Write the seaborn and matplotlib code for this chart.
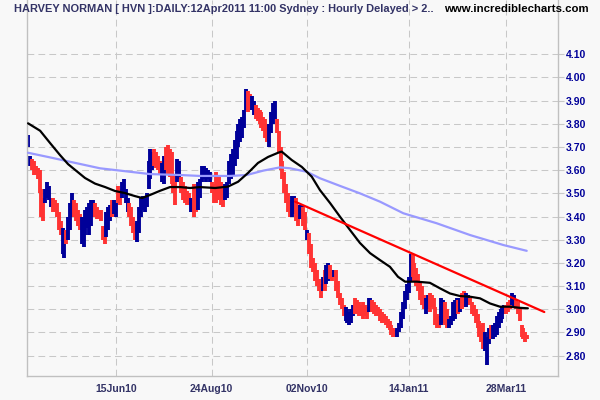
import numpy as np
import pandas as pd
import matplotlib
matplotlib.use("Agg")
import matplotlib.pyplot as plt
import seaborn as sns

# one bar per trading day, 12 Apr 2010 .. 12 Apr 2011
dates = pd.bdate_range("2010-04-12", "2011-04-12")

bar_low = [
    3.70, 3.62, 3.60, 3.58, 3.58, 3.56, 3.50, 3.40, 3.38, 3.46,
    3.48, 3.47, 3.44, 3.42, 3.42, 3.40, 3.34, 3.32, 3.24, 3.22,
    3.28, 3.30, 3.34, 3.40, 3.40, 3.38, 3.36, 3.34, 3.28, 3.27,
    3.32, 3.35, 3.32, 3.36, 3.40, 3.40, 3.39, 3.39, 3.38, 3.30,
    3.28, 3.31, 3.34, 3.38, 3.40, 3.41, 3.40, 3.46, 3.45, 3.48,
    3.50, 3.46, 3.42, 3.40, 3.36, 3.33, 3.30, 3.29, 3.33, 3.40,
    3.43, 3.42, 3.44, 3.52, 3.56, 3.60, 3.62, 3.61, 3.60, 3.58,
    3.55, 3.54, 3.60, 3.58, 3.57, 3.54, 3.50, 3.45, 3.55, 3.56,
    3.50, 3.47, 3.46, 3.45, 3.45, 3.42, 3.43, 3.40, 3.42, 3.43,
    3.48, 3.55, 3.56, 3.55, 3.56, 3.55, 3.50, 3.46, 3.46, 3.48,
    3.47, 3.45, 3.44, 3.47, 3.48, 3.54, 3.56, 3.58, 3.62, 3.65,
    3.70, 3.72, 3.74, 3.78, 3.86, 3.85, 3.86, 3.86, 3.84, 3.82,
    3.81, 3.80, 3.78, 3.77, 3.74, 3.72, 3.70, 3.76, 3.80, 3.82,
    3.76, 3.68, 3.60, 3.56, 3.50, 3.46, 3.42, 3.40, 3.40, 3.41,
    3.38, 3.36, 3.39, 3.40, 3.36, 3.34, 3.30, 3.24, 3.18, 3.16,
    3.12, 3.10, 3.08, 3.05, 3.08, 3.08, 3.11, 3.12, 3.13, 3.12,
    3.14, 3.08, 3.05, 3.02, 3.00, 2.97, 2.95, 2.94, 2.93, 2.94,
    2.97, 2.98, 2.98, 2.97, 2.97, 2.96, 2.97, 2.96, 2.99, 3.00,
    2.99, 2.98, 2.97, 2.97, 2.95, 2.94, 2.94, 2.93, 2.92, 2.91,
    2.89, 2.88, 2.88, 2.88, 2.90, 2.92, 2.96, 3.00, 3.04, 3.07,
    3.12, 3.14, 3.12, 3.10, 3.08, 3.04, 3.02, 3.00, 2.98, 3.00,
    2.99, 3.01, 3.00, 2.93, 2.92, 2.92, 2.93, 2.94, 2.93, 2.92,
    2.92, 2.93, 2.95, 2.96, 2.98, 2.98, 2.99, 3.00, 3.01, 3.01,
    3.02, 3.02, 2.98, 2.97, 2.94, 2.92, 2.88, 2.86, 2.83, 2.82,
    2.76, 2.85, 2.87, 2.87, 2.88, 2.89, 2.92, 2.94, 2.96, 2.98,
    2.98, 2.99, 3.00, 3.02, 3.01, 3.00, 2.98, 2.95, 2.88, 2.87,
    2.86, 2.87,
]
bar_high = [
    3.75, 3.66, 3.65, 3.64, 3.62, 3.61, 3.60, 3.52, 3.48, 3.52,
    3.55, 3.53, 3.48, 3.48, 3.47, 3.46, 3.42, 3.38, 3.35, 3.30,
    3.34, 3.40, 3.46, 3.50, 3.47, 3.46, 3.43, 3.41, 3.40, 3.38,
    3.43, 3.44, 3.46, 3.47, 3.47, 3.46, 3.44, 3.43, 3.43, 3.36,
    3.33, 3.42, 3.44, 3.45, 3.47, 3.47, 3.46, 3.53, 3.52, 3.55,
    3.56, 3.52, 3.48, 3.46, 3.44, 3.40, 3.37, 3.38, 3.44, 3.48,
    3.49, 3.48, 3.50, 3.64, 3.69, 3.68, 3.69, 3.68, 3.66, 3.64,
    3.63, 3.66, 3.70, 3.71, 3.69, 3.68, 3.58, 3.55, 3.65, 3.64,
    3.57, 3.55, 3.53, 3.51, 3.50, 3.48, 3.48, 3.54, 3.52, 3.55,
    3.56, 3.62, 3.62, 3.61, 3.60, 3.59, 3.55, 3.54, 3.59, 3.57,
    3.58, 3.55, 3.52, 3.54, 3.55, 3.64, 3.67, 3.69, 3.73, 3.77,
    3.80, 3.82, 3.83, 3.86, 3.95, 3.94, 3.93, 3.92, 3.90, 3.88,
    3.87, 3.86, 3.85, 3.83, 3.82, 3.80, 3.80, 3.85, 3.89, 3.90,
    3.82, 3.77, 3.70, 3.64, 3.59, 3.54, 3.50, 3.47, 3.49, 3.49,
    3.48, 3.45, 3.45, 3.45, 3.44, 3.42, 3.34, 3.33, 3.28, 3.22,
    3.20, 3.17, 3.13, 3.11, 3.14, 3.17, 3.19, 3.20, 3.19, 3.17,
    3.17, 3.17, 3.12, 3.07, 3.05, 3.02, 3.01, 3.00, 2.99, 3.00,
    3.02, 3.05, 3.04, 3.03, 3.02, 3.03, 3.02, 3.01, 3.05, 3.05,
    3.04, 3.03, 3.02, 3.01, 3.00, 2.99, 2.98, 2.97, 2.96, 2.95,
    2.93, 2.92, 2.91, 2.92, 2.94, 2.99, 3.03, 3.08, 3.11, 3.14,
    3.24, 3.24, 3.20, 3.18, 3.15, 3.12, 3.10, 3.06, 3.05, 3.06,
    3.07, 3.06, 3.05, 3.01, 2.98, 2.97, 3.05, 3.04, 3.03, 3.00,
    2.96, 2.97, 3.03, 3.04, 3.05, 3.04, 3.05, 3.07, 3.08, 3.07,
    3.06, 3.05, 3.03, 3.02, 3.00, 2.98, 2.95, 2.93, 2.94, 2.90,
    2.88, 2.92, 2.93, 2.93, 2.94, 2.97, 2.99, 3.00, 3.01, 3.02,
    3.02, 3.03, 3.04, 3.07, 3.06, 3.04, 3.03, 3.00, 2.93, 2.92,
    2.90, 2.89,
]
# u = blue (up) bar, d = red (down) bar
bar_trend = (
    "uudddddddu" "uuuddddduu" "duuudddduu" "uuuuuddddd" "duuuduuddu"
    "uuudddduuu" "uuuuuudddd" "uudddddduu" "ddddduuddu" "uuuuuudddd"
    "ddduuuuuuu" "uuuuudduud" "dddddduuuu" "dddddddduu" "dduudduddd"
    "dddduduudd" "uddddduuuu" "uddddddduu" "dddddddddd" "ddduuuuuuu"
    "uddddddduu" "dddddduudd" "uuuuududdu" "uddddddddu" "uuduuuuuuu"
    "ddduuddddd" "dd"
)

# short moving average (black), read at intervals
ma_short_day = [0, 6.3, 11.5, 16.7, 20.9, 24.6, 29.8, 35.0, 40.3, 45.5, 50.7,
                55.9, 59.6, 63.8, 69.0, 74.2, 79.5, 84.7, 89.9, 97.8, 104.5,
                109.8, 115.0, 120.2, 125.5, 130.7, 132.6, 137.8, 143.1, 148.3,
                152.6, 157.9, 163.1, 168.3, 173.5, 178.8, 184.0, 189.2, 193.4,
                197.1, 203.2, 210.1, 215.4, 220.6, 225.8, 231.1, 236.3, 241.5,
                246.7, 251.9, 257.2, 261.3]
ma_short_val = [3.802, 3.770, 3.717, 3.665, 3.626, 3.601, 3.566, 3.542, 3.527,
                3.510, 3.501, 3.488, 3.480, 3.493, 3.511, 3.527, 3.527, 3.523,
                3.527, 3.523, 3.529, 3.550, 3.588, 3.631, 3.657, 3.675, 3.680,
                3.644, 3.614, 3.572, 3.514, 3.458, 3.399, 3.342, 3.286, 3.242,
                3.212, 3.183, 3.140, 3.119, 3.119, 3.114, 3.090, 3.068, 3.057,
                3.054, 3.047, 3.025, 3.011, 3.011, 3.006, 3.004]

# long moving average (light blue)
ma_long_day = [0, 11.5, 22.0, 37.6, 48.1, 63.8, 79.5, 89.9, 105.6, 114.3, 123.0,
               131.7, 137.0, 145.7, 152.6, 163.1, 173.5, 184.0, 196.2, 213.6,
               231.1, 248.5, 260.7]
ma_long_val = [3.675, 3.655, 3.636, 3.608, 3.598, 3.583, 3.579, 3.575, 3.575,
               3.579, 3.598, 3.612, 3.608, 3.593, 3.565, 3.532, 3.500, 3.464,
               3.414, 3.371, 3.320, 3.277, 3.252]

# hand drawn trendline
trend_day = [139.6, 269.9]
trend_val = [3.464, 2.988]

price_ticks = [2.8, 2.9, 3.0, 3.1, 3.2, 3.3, 3.4, 3.5, 3.6, 3.7, 3.8, 3.9, 4.0, 4.1]
tick_dates = ["2010-06-15", "2010-08-24", "2010-11-02", "2011-01-14", "2011-03-28"]
tick_labels = ["15Jun10", "24Aug10", "02Nov10", "14Jan11", "28Mar11"]

title = "HARVEY NORMAN [ HVN ]:DAILY:12Apr2011 11:00 Sydney : Hourly Delayed > 2.."
site = "www.incrediblecharts.com"

bg = "#f8f8f8"
grid_col = "#c8c8c8"

sns.set_style("white")
plt.rcParams["font.family"] = ["Liberation Sans", "DejaVu Sans"]

fig = plt.figure(figsize=(6, 4), dpi=100, facecolor=bg)
ax = fig.add_axes([27.5 / 600, 24 / 400, 530 / 600, 376 / 400])
ax.set_facecolor(bg)

day = np.arange(len(dates))
colors = ["#000099" if t == "u" else "#ff3333" for t in bar_trend]
ax.vlines(day, bar_low, bar_high, colors=colors, lw=2.8, zorder=2)

sns.lineplot(x=ma_long_day, y=ma_long_val, color="#9999ff", lw=1.6, ax=ax, zorder=3)
sns.lineplot(x=ma_short_day, y=ma_short_val, color="black", lw=1.6, ax=ax, zorder=3)
sns.lineplot(x=trend_day, y=trend_val, color="#ff0000", lw=1.6, ax=ax, zorder=4)

ax.set_xlim(-0.3, 276.8)
ax.set_ylim(2.712, 4.334)

xpos = [dates.get_loc(pd.Timestamp(d)) for d in tick_dates]
ax.set_xticks(xpos)
ax.set_xticklabels(tick_labels, fontsize=7.5, fontweight="bold", color="#333366")
ax.yaxis.tick_right()
ax.set_yticks(price_ticks)
ax.set_yticklabels([f"{v:.2f}" for v in price_ticks], fontsize=7.5,
                   fontweight="bold", color="#000099")
ax.tick_params(axis="both", length=4, width=0.8, color=grid_col, pad=2)
ax.set_xlabel("")
ax.set_ylabel("")

ax.grid(True, color=grid_col, lw=0.75, ls=(0, (6.5, 4)), zorder=0)
ax.set_axisbelow(True)
for side in ["left", "right", "bottom"]:
    ax.spines[side].set_color("#c0c0c0")
    ax.spines[side].set_linewidth(1)
ax.spines["top"].set_visible(False)

fig.text(14 / 600, 1 - 8.5 / 400, title, color="#333366", fontsize=7.9,
         fontweight="bold", va="center", ha="left")
fig.text(589 / 600, 1 - 8.5 / 400, site, color="black", fontsize=8.2,
         fontweight="bold", va="center", ha="right")

plt.savefig("out.png", dpi=100, facecolor=bg)
plt.close()
